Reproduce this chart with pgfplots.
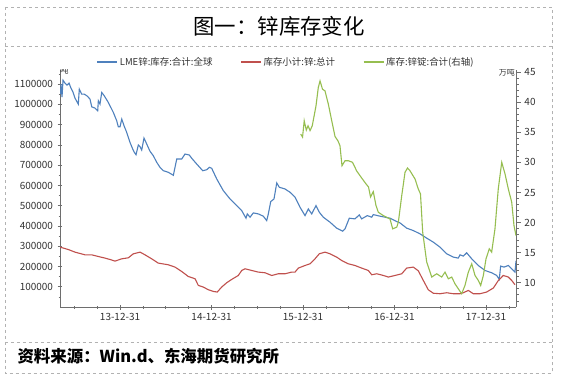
\documentclass[border=0pt]{standalone}
\usepackage{fontspec}
\setmainfont{Noto Sans CJK SC}
\usepackage{pgfplots}
\pgfplotsset{compat=1.18}
\definecolor{cblue}{RGB}{79,129,189}
\definecolor{cred}{RGB}{192,80,77}
\definecolor{cgreen}{RGB}{150,190,80}
\definecolor{axgray}{RGB}{110,110,110}
\definecolor{txt}{RGB}{50,50,50}
\begin{document}
\begin{tikzpicture}[x=1bp,y=1bp]
\path[fill=white] (0,0) rectangle (563,379);
\draw[gray!60,dashed,line width=0.5bp] (5,372) rectangle (552,6);
\draw[gray!60,dashed,line width=0.5bp] (5,333) -- (552,333);
\draw[gray!60,dashed,line width=0.5bp] (5,37) -- (552,37);
\node[font=\fontsize{21.5}{25}\selectfont] at (279,353) {图一：锌库存变化};
\node[anchor=west,font=\fontsize{16.5}{19}\selectfont\bfseries] at (14,23) {资料来源：Win.d、东海期货研究所};

\pgfplotsset{
  commonax/.style={
    at={(60bp,72bp)}, anchor=south west,
    width=456bp, height=237bp, scale only axis,
    xmin=2013.344, xmax=2018.328,
    tick align=outside,
    major tick length=5bp, minor tick length=3bp,
    every tick/.style={axgray,line width=0.6bp},
    axis line style={axgray,line width=0.8bp},
    tick label style={font=\fontsize{10}{12}\selectfont, text=txt},
    /pgf/number format/fixed,
    /pgf/number format/precision=0,
    /pgf/number format/assume math mode=true,
    /pgf/number format/1000 sep={},
    scaled y ticks=false,
  }
}

\begin{axis}[commonax,
  axis x line=bottom, axis y line=left,
  x axis line style={-}, y axis line style={-},
  ymin=0, ymax=1170000,
  ytick={100000,200000,...,1100000},
  minor ytick={50000,150000,...,1150000},
  xtick={2014,2015,2016,2017,2018},
  xticklabels={13-12-31,14-12-31,15-12-31,16-12-31,17-12-31},
  minor xtick={2013.5,2013.75,2014.25,2014.5,2014.75,2015.25,2015.5,2015.75,2016.25,2016.5,2016.75,2017.25,2017.5,2017.75,2018.25},
  yticklabel style={xshift=-1bp},
  legend style={at={(axis description cs:0.496,1)}, anchor=center, yshift=8bp,
    draw=none, fill=none, font=\fontsize{9.5}{11}\selectfont, text=txt,
    legend columns=3, inner sep=0pt,
    /tikz/every even column/.append style={column sep=26bp}},
  legend image code/.code={\draw[#1] (0bp,0bp)--(20bp,0bp);},
]
\addplot[cblue, line width=1.1bp] coordinates {
(2013.350,1050700)(2013.355,1100000)(2013.366,1036000)(2013.377,1119700)(2013.399,1104900)
(2013.421,1095100)(2013.443,1104900)(2013.464,1080300)(2013.486,1060600)(2013.508,1031000)
(2013.544,1001500)(2013.555,1075400)(2013.581,1050700)(2013.610,1050700)(2013.643,1040900)
(2013.672,1026100)(2013.691,988200)(2013.727,981800)(2013.756,968500)(2013.763,1017700)
(2013.781,1001500)(2013.800,1059100)(2013.828,1042400)(2013.872,1009900)(2013.927,960600)
(2013.964,919200)(2013.981,889700)(2014.000,889700)(2014.019,927600)(2014.044,894600)
(2014.073,862100)(2014.109,812800)(2014.134,784700)(2014.156,763500)(2014.175,751700)
(2014.200,799500)(2014.219,791100)(2014.237,774900)(2014.262,834000)(2014.292,804400)
(2014.328,768500)(2014.364,746800)(2014.401,714300)(2014.437,689700)(2014.473,672900)
(2014.528,665000)(2014.583,650200)(2014.601,689700)(2014.620,730500)(2014.674,730500)
(2014.710,755200)(2014.757,750300)(2014.784,734000)(2014.838,705900)(2014.904,672900)
(2014.948,677800)(2014.976,689700)(2015.002,684700)(2015.057,632000)(2015.129,574400)
(2015.202,533500)(2015.275,500500)(2015.330,475900)(2015.377,438400)(2015.391,459600)
(2015.421,443300)(2015.457,464500)(2015.511,459600)(2015.566,448300)(2015.603,426600)
(2015.621,459600)(2015.647,520200)(2015.683,533500)(2015.713,612300)(2015.741,591100)
(2015.803,582800)(2015.858,566500)(2015.913,541900)(2015.967,492600)(2016.022,451200)
(2016.058,484200)(2016.095,459600)(2016.142,500500)(2016.178,468000)(2016.222,443300)
(2016.295,418700)(2016.368,389200)(2016.434,374400)(2016.459,385700)(2016.506,438400)
(2016.568,435000)(2016.615,454700)(2016.641,435000)(2016.703,451200)(2016.751,443300)
(2016.768,456200)(2016.842,448300)(2016.951,438400)(2017.024,421700)(2017.060,415300)
(2017.133,389200)(2017.206,377300)(2017.279,361100)(2017.352,339900)(2017.424,320200)
(2017.497,295600)(2017.571,262600)(2017.643,246300)(2017.697,241400)(2017.716,257600)
(2017.752,251200)(2017.789,267500)(2017.844,237900)(2017.916,204900)(2017.989,180300)
(2018.062,169000)(2018.117,155700)(2018.145,136000)(2018.160,202000)(2018.197,197000)
(2018.244,204900)(2018.281,188700)(2018.317,172400)(2018.328,228100)
};
\addlegendentry{LME锌:库存:合计:全球}
\addplot[cred, line width=1.1bp] coordinates {
(2013.344,295600)(2013.435,283700)(2013.508,270900)(2013.617,257600)(2013.691,257600)
(2013.763,249300)(2013.836,241400)(2013.891,234500)(2013.945,226600)(2014.019,237900)
(2014.091,242900)(2014.145,262600)(2014.219,270900)(2014.273,257600)(2014.346,237900)
(2014.418,216700)(2014.528,208400)(2014.601,197000)(2014.674,175400)(2014.746,150700)
(2014.820,139400)(2014.856,106400)(2014.910,98500)(2014.965,85200)(2015.020,76800)
(2015.063,73900)(2015.111,98500)(2015.166,119700)(2015.220,136000)(2015.293,155700)
(2015.330,180300)(2015.366,188700)(2015.439,180300)(2015.511,172400)(2015.585,169000)
(2015.658,155700)(2015.730,164000)(2015.803,164000)(2015.876,172400)(2015.913,172400)
(2015.949,192100)(2016.022,204900)(2016.077,213300)(2016.131,237900)(2016.178,262600)
(2016.240,270900)(2016.295,262600)(2016.368,246300)(2016.423,229600)(2016.495,213300)
(2016.568,204900)(2016.641,192100)(2016.714,180300)(2016.751,159100)(2016.806,164000)
(2016.878,155700)(2016.933,147800)(2017.005,155700)(2017.079,164000)(2017.133,192100)
(2017.206,197000)(2017.260,178800)(2017.315,131000)(2017.369,85200)(2017.424,68000)
(2017.497,65500)(2017.571,70400)(2017.643,65500)(2017.716,65500)(2017.752,70400)
(2017.807,81800)(2017.861,65500)(2017.934,65500)(2018.007,73900)(2018.080,93600)
(2018.135,131000)(2018.189,155700)(2018.244,147800)(2018.281,131000)(2018.317,109900)
};
\addlegendentry{库存小计:锌:总计}
\addlegendimage{cgreen, line width=1.1bp}
\addlegendentry{库存:锌锭:合计(右轴)}
\node[anchor=west, font=\fontsize{8.5}{10}\selectfont, text=txt, inner sep=0pt] at (rel axis cs:0,1) {吨};
\end{axis}

\begin{axis}[commonax,
  axis x line=none, axis y line*=right,
  y axis line style={-},
  ymin=5.97, ymax=45.36,
  ytick={10,15,...,45},
  minor ytick={7,8,9,11,12,13,14,16,17,18,19,21,22,23,24,26,27,28,29,31,32,33,34,36,37,38,39,41,42,43,44},
]
\addplot[cgreen, line width=1.1bp] coordinates {
(2015.975,34.71)(2015.995,34.21)(2016.013,36.92)(2016.036,35.37)(2016.055,36.09)
(2016.077,35.29)(2016.101,36.09)(2016.142,39.40)(2016.167,42.45)(2016.186,43.55)
(2016.213,42.17)(2016.240,41.89)(2016.277,39.68)(2016.314,36.92)(2016.350,34.30)
(2016.383,33.55)(2016.404,32.77)(2016.426,29.45)(2016.459,30.28)(2016.495,30.28)
(2016.541,30.02)(2016.587,28.57)(2016.641,27.41)(2016.689,26.42)(2016.716,25.92)
(2016.738,24.26)(2016.768,25.14)(2016.798,22.82)(2016.823,21.72)(2016.878,21.16)
(2016.951,20.61)(2016.980,18.96)(2017.024,19.24)(2017.042,20.07)(2017.079,24.48)
(2017.115,28.36)(2017.142,29.07)(2017.169,28.62)(2017.224,27.25)(2017.260,25.59)
(2017.284,24.76)(2017.308,18.41)(2017.352,13.43)(2017.407,10.95)(2017.461,11.49)
(2017.516,10.95)(2017.552,11.77)(2017.588,10.66)(2017.625,10.95)(2017.661,9.83)
(2017.697,9.00)(2017.734,8.18)(2017.770,9.55)(2017.807,11.77)(2017.844,13.15)
(2017.880,11.21)(2017.916,10.38)(2017.942,9.55)(2017.971,11.21)(2018.000,13.98)
(2018.036,15.64)(2018.062,15.09)(2018.098,18.96)(2018.134,25.59)(2018.172,30.02)
(2018.208,28.08)(2018.244,25.59)(2018.281,23.38)(2018.306,19.50)(2018.328,17.84)
};
\node[anchor=east, font=\fontsize{8}{9}\selectfont, text=txt, inner sep=0pt] at ([xshift=-1bp,yshift=-2bp]rel axis cs:1,1) {万吨};
\end{axis}
\pgfresetboundingbox
\path (0,0) rectangle (563,379);
\end{tikzpicture}
\end{document}
